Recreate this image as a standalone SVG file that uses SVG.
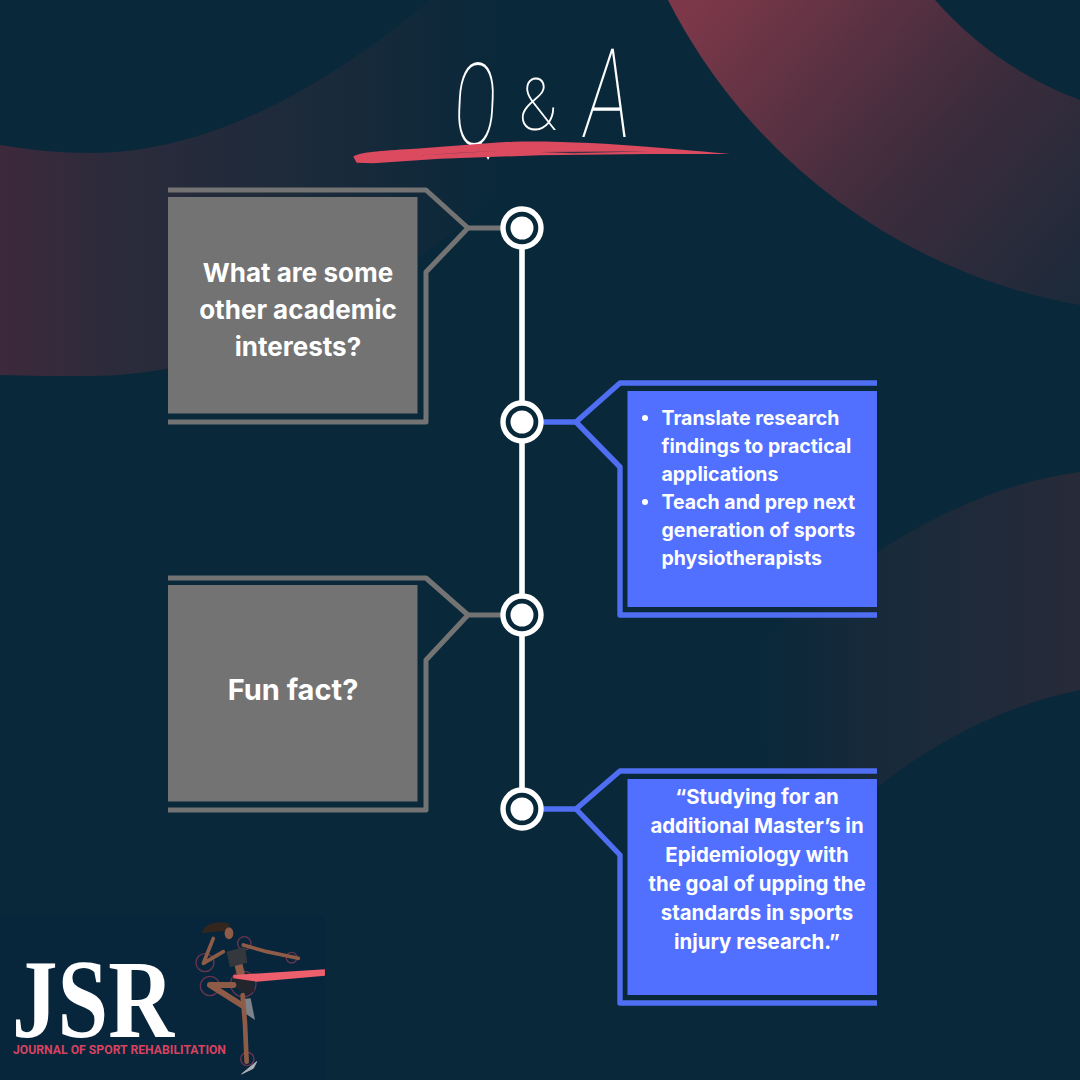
<svg xmlns="http://www.w3.org/2000/svg" width="1080" height="1080" viewBox="0 0 1080 1080">
<style>
.t{font-family:"Inter","Noto Sans","Liberation Sans",sans-serif;font-weight:700;fill:#fff}
.g{font-size:26px;text-anchor:middle}
.b{font-size:19.500px}
.c{font-size:20.400px;text-anchor:middle}
.q{font-family:"Roboto","Lato","Liberation Sans",sans-serif;font-weight:100;fill:#fff;font-size:124px;text-anchor:middle}
.fg{fill:none;stroke:#737373;stroke-width:5;stroke-linejoin:round}
.fb{fill:none;stroke:#4f6ef2;stroke-width:5.4;stroke-linejoin:round}
.ring{fill:#09283a;stroke:#fff;stroke-width:5.4}
.dot{fill:#fff}
.tg{stroke:#fff;stroke-width:5.6}
.halo{fill:none;stroke:#6a3550;stroke-width:4}
.skin{fill:none;stroke:#8e5c46;stroke-linecap:round;stroke-linejoin:round}
</style>
<defs>
<linearGradient id="gTR" gradientUnits="userSpaceOnUse" x1="700" y1="0" x2="1060" y2="320"><stop offset="0" stop-color="#7c3849"/><stop offset=".55" stop-color="#3d2c3c"/><stop offset="1" stop-color="#1c2a3a"/></linearGradient>
<linearGradient id="gTL" gradientUnits="userSpaceOnUse" x1="0" y1="0" x2="500" y2="0"><stop offset="0" stop-color="#3d293b"/><stop offset=".2" stop-color="#2d2b3b"/><stop offset=".65" stop-color="#1a2a3a"/><stop offset="1" stop-color="#09283a"/></linearGradient>
<linearGradient id="gBR" gradientUnits="userSpaceOnUse" x1="760" y1="0" x2="1080" y2="0"><stop offset="0" stop-color="#09283a"/><stop offset=".38" stop-color="#182a3a"/><stop offset="1" stop-color="#272a39"/></linearGradient>
</defs>
<rect id="background" width="1080" height="1080" fill="#09283a"/>
<path d="M668 0A574 574 0 0 0 1080 305V100A365 365 0 0 1 935 0Z" fill="url(#gTR)"/>
<path d="M0 145C30 150 60 153 90 153C220 153 340 75 430 0H620C560 200 300 376 90 376C60 376 30 376 0 375Z" fill="url(#gTL)"/>
<path d="M1080 472C980 485 870 540 740 660L800 860C880 770 980 710 1080 690Z" fill="url(#gBR)"/>

<g id="title">
<text class="q" transform="translate(474 145) scale(.52 .93) skewX(-5)">Q</text>
<text class="q" transform="translate(538 130) scale(.52 .58)">&amp;</text>
<text class="q" transform="translate(604 137) scale(.62 1) skewX(-9)">A</text>
<g transform="translate(340 30) scale(.3333)">
<path d="M40 380C60 368 100 364 200 358C300 352 420 340 520 335C640 332 800 340 920 350C1020 358 1110 366 1170 372L930 372L600 376L300 386L100 400L50 398Z" fill="#dc4a5f"/>
<path d="M240 376L480 362L360 368ZM600 366L930 364L700 370Z" fill="#09283a" opacity=".75"/>
</g>
</g>

<g id="connectors">
<line class="tg" x1="522" y1="228" x2="522" y2="809"/>
<line class="fg" x1="468" y1="228" x2="502" y2="228"/>
<line class="fb" x1="542" y1="422" x2="576" y2="422"/>
<line class="fg" x1="468" y1="615" x2="502" y2="615"/>
<line class="fb" x1="542" y1="809" x2="576" y2="809"/>
</g>

<g id="q1">
<rect x="168" y="197" width="249.500" height="216.500" fill="#737373"/>
<path class="fg" d="M168 190H426L468 228L426 272V422H168"/>
<text class="t g" x="298" y="282">What are some</text>
<text class="t g" x="298" y="319">other academic</text>
<text class="t g" x="298" y="356">interests?</text>
</g>
<g id="a1">
<rect x="627.500" y="391" width="249.500" height="216" fill="#5170ff"/>
<path class="fb" d="M877 383H620L576 422L620 467V615H877"/>
<circle class="dot" cx="645" cy="418" r="3"/>
<circle class="dot" cx="645" cy="502" r="3"/>
<text class="t b" x="661.500" y="425">Translate research</text>
<text class="t b" x="661.500" y="453">findings to practical</text>
<text class="t b" x="661.500" y="481">applications</text>
<text class="t b" x="661.500" y="509">Teach and prep next</text>
<text class="t b" x="661.500" y="537">generation of sports</text>
<text class="t b" x="661.500" y="565">physiotherapists</text>
</g>
<g id="q2">
<rect x="168" y="585" width="249.500" height="216.500" fill="#737373"/>
<path class="fg" d="M168 578H426L468 615L426 660V810H168"/>
<text class="t" x="293" y="700" font-size="29" text-anchor="middle">Fun fact?</text>
</g>
<g id="a2">
<rect x="627.500" y="779" width="249.500" height="216" fill="#5170ff"/>
<path class="fb" d="M877 771H620L576 809L620 855V1003H877"/>
<text class="t c" x="757" y="804">“Studying for an</text>
<text class="t c" x="757" y="833">additional Master’s in</text>
<text class="t c" x="757" y="862">Epidemiology with</text>
<text class="t c" x="757" y="891">the goal of upping the</text>
<text class="t c" x="757" y="920">standards in sports</text>
<text class="t c" x="757" y="949">injury research.”</text>
</g>

<g id="n1"><circle class="ring" cx="522" cy="228" r="19"/><circle class="dot" cx="522" cy="228" r="11.500"/></g>
<g id="n2"><circle class="ring" cx="522" cy="422" r="19"/><circle class="dot" cx="522" cy="422" r="11.500"/></g>
<g id="n3"><circle class="ring" cx="522" cy="615" r="19"/><circle class="dot" cx="522" cy="615" r="11.500"/></g>
<g id="n4"><circle class="ring" cx="522" cy="809" r="19"/><circle class="dot" cx="522" cy="809" r="11.500"/></g>

<g id="logo">
<rect x="0" y="915" width="325" height="165" fill="#07263c"/>
<text x="12" y="1037" font-family="Liberation Serif,serif" font-weight="700" font-size="112" fill="#fff" textLength="162" lengthAdjust="spacingAndGlyphs">JSR</text>
<text x="13" y="1054" font-family="Roboto,Liberation Sans,sans-serif" font-weight="700" font-size="13.500" fill="#d8425f" textLength="213" lengthAdjust="spacingAndGlyphs">JOURNAL OF SPORT REHABILITATION</text>
<g transform="translate(0 910) scale(.3333)">
<circle class="halo" cx="615" cy="158" r="27"/><circle class="halo" cx="630" cy="228" r="29"/><circle class="halo" cx="730" cy="222" r="38"/><circle class="halo" cx="875" cy="143" r="16"/><circle class="halo" cx="733" cy="100" r="20"/><circle class="halo" cx="742" cy="447" r="20"/>
<path d="M605 70C615 40 650 30 690 42L680 62L640 66Z" fill="#33261f"/>
<ellipse cx="687" cy="70" rx="13" ry="18" fill="#8e5c46"/>
<path class="skin" stroke-width="11" d="M670 125L610 160L640 85"/>
<path class="skin" stroke-width="11" d="M730 105L800 125L895 145"/>
<path class="skin" stroke-width="24" d="M712 150L722 190"/>
<path d="M680 125L735 110L742 158L690 172Z" fill="#34373c"/>
<path d="M698 200L765 190L762 245L735 255L700 225Z" fill="#22262c"/>
<path class="skin" stroke-width="18" d="M700 225L630 225L725 285"/>
<path d="M722 268L752 265L765 330L735 310Z" fill="#7d828a"/>
<path class="skin" stroke-width="14" d="M728 255L735 340L740 455"/>
<path d="M725 492L770 455L760 475Z" fill="#aeb2b6" stroke="#aeb2b6" stroke-width="3"/>
<path d="M700 195L975 178V197L770 215L700 205Z" fill="#ee5f6d"/>
</g>
</g>
</svg>
